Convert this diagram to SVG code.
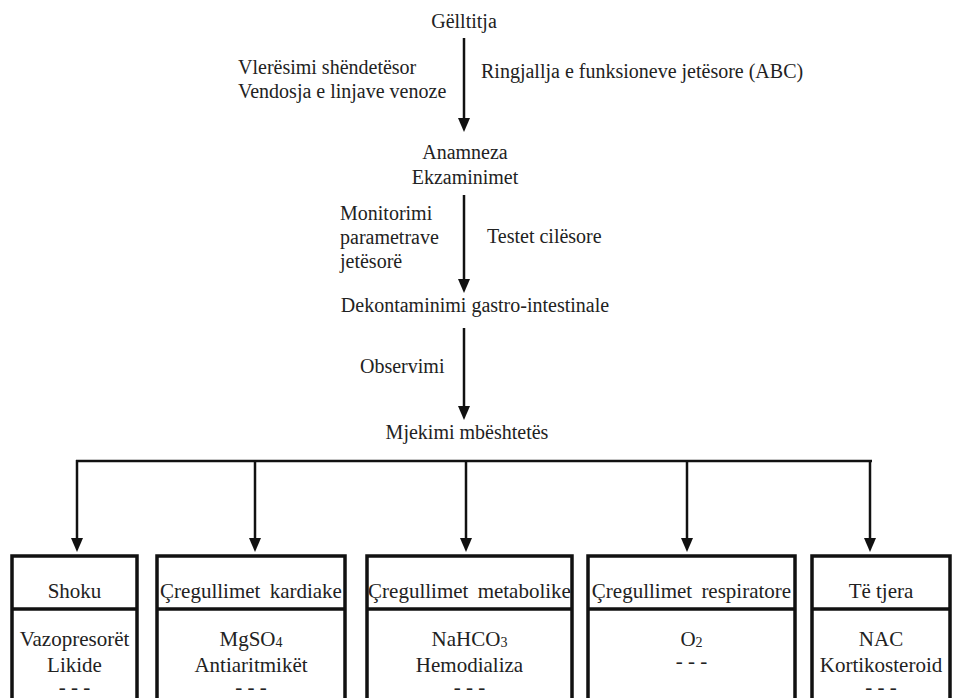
<svg xmlns="http://www.w3.org/2000/svg" width="955" height="698" viewBox="0 0 955 698">
<style>
text{font-family:'Liberation Serif','Times New Roman',serif;fill:#222}
.m{font-size:20px}
.b{font-size:21px}
.c{text-anchor:middle}
.sub{font-size:14px}
.box{fill:none;stroke:#111;stroke-width:3.5}
.ln{fill:none;stroke:#111;stroke-width:2.5}
.ah{fill:#111}
</style>
<g id="connectors">
<path class="ln" d="M464,38 V120"/><path class="ah" d="M458,118 L470,118 L464,132 Z"/>
<path class="ln" d="M464,195 V281"/><path class="ah" d="M458,279 L470,279 L464,293 Z"/>
<path class="ln" d="M464,328 V408"/><path class="ah" d="M458,406 L470,406 L464,420 Z"/>
<path class="ln" d="M76,461 H872"/>
<path class="ln" d="M77,460 V540"/><path class="ah" d="M71,538 L83,538 L77,552 Z"/>
<path class="ln" d="M255,461 V540"/><path class="ah" d="M249,538 L261,538 L255,552 Z"/>
<path class="ln" d="M466,461 V540"/><path class="ah" d="M460,538 L472,538 L466,552 Z"/>
<path class="ln" d="M687,461 V540"/><path class="ah" d="M681,538 L693,538 L687,552 Z"/>
<path class="ln" d="M870,460 V540"/><path class="ah" d="M864,538 L876,538 L870,552 Z"/>
</g>
<g id="labels">
<text class="m" x="238" y="74">Vlerësimi shëndetësor</text>
<text class="m" x="238" y="98">Vendosja e linjave venoze</text>
<text class="m" x="481" y="78">Ringjallja e funksioneve jetësore (ABC)</text>
<text class="m" x="340" y="220">Monitorimi</text>
<text class="m" x="340" y="244">parametrave</text>
<text class="m" x="340" y="268">jetësorë</text>
<text class="m" x="487" y="243">Testet cilësore</text>
<text class="m" x="360" y="373">Observimi</text>
</g>
<g id="n-gelltitja"><text class="m c" x="464" y="28">Gëlltitja</text></g>
<g id="n-anamneza"><text class="m c" x="465" y="159">Anamneza</text><text class="m c" x="465" y="184">Ekzaminimet</text></g>
<g id="n-dekontaminimi"><text class="m c" x="475" y="312">Dekontaminimi gastro-intestinale</text></g>
<g id="n-mjekimi"><text class="m c" x="467" y="439">Mjekimi mbështetës</text></g>
<g id="n-shoku">
<rect class="box" x="12" y="556" width="125" height="160"/><path class="box" d="M12,609 H137"/>
<text class="b c" x="74.5" y="598">Shoku</text>
<text class="b c" x="74.5" y="646">Vazopresorët</text>
<text class="b c" x="74.5" y="672">Likide</text>
<text class="b c" x="74.5" y="694">- - -</text>
</g>
<g id="n-kardiake">
<rect class="box" x="157" y="556" width="188" height="160"/><path class="box" d="M157,609 H345"/>
<text class="b c" x="251" y="598" word-spacing="4">Çregullimet kardiake</text>
<text class="b c" x="251" y="646">MgSO<tspan class="sub" dy="1">4</tspan></text>
<text class="b c" x="251" y="672">Antiaritmikët</text>
<text class="b c" x="251" y="694">- - -</text>
</g>
<g id="n-metabolike">
<rect class="box" x="367" y="556" width="205" height="160"/><path class="box" d="M367,609 H572"/>
<text class="b c" x="469.5" y="598" word-spacing="4">Çregullimet metabolike</text>
<text class="b c" x="469.5" y="646">NaHCO<tspan class="sub" dy="1">3</tspan></text>
<text class="b c" x="469.5" y="672">Hemodializa</text>
<text class="b c" x="469.5" y="694">- - -</text>
</g>
<g id="n-respiratore">
<rect class="box" x="588" y="556" width="207" height="160"/><path class="box" d="M588,609 H795"/>
<text class="b c" x="691.5" y="598" word-spacing="4">Çregullimet respiratore</text>
<text class="b c" x="691.5" y="646">O<tspan class="sub" dy="1">2</tspan></text>
<text class="b c" x="691.5" y="668">- - -</text>
</g>
<g id="n-tjera">
<rect class="box" x="812" y="556" width="138" height="160"/><path class="box" d="M812,609 H950"/>
<text class="b c" x="881" y="598">Të tjera</text>
<text class="b c" x="881" y="646">NAC</text>
<text class="b c" x="881" y="672">Kortikosteroid</text>
<text class="b c" x="881" y="694">- - -</text>
</g>
</svg>
